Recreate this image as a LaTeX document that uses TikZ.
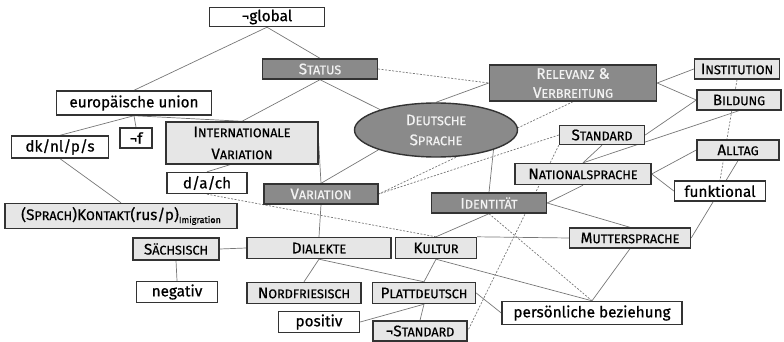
\documentclass[tikz,border=0pt]{standalone}
\usepackage{fontspec}
\setmainfont{Fira Sans}[UprightFeatures={FakeBold=0.6}]
\usetikzlibrary{shapes.geometric}

\pgfdeclarelayer{background}
\pgfsetlayers{background,main}

\definecolor{lightfill}{HTML}{E6E6E6}
\definecolor{darkfill}{HTML}{8A8A8A}
\definecolor{boxline}{HTML}{333333}
\definecolor{linkcol}{HTML}{777777}
\definecolor{darktext}{HTML}{F2F2F2}

% small-caps tail of a word
\newcommand\sml[1]{{\fontsize{12.6}{13}\selectfont #1}}

\tikzset{
  basebox/.style={rectangle, draw=boxline, line width=1.4pt, inner sep=0pt,
    align=center, font=\fontsize{15.3}{19}\selectfont},
  whitebox/.style={basebox, fill=white, text=black},
  lightbox/.style={basebox, fill=lightfill, text=black},
  darkbox/.style={basebox, fill=darkfill, text=darktext},
  link/.style={draw=linkcol, line width=0.7pt},
  dlink/.style={link, dash pattern=on 2pt off 1.5pt},
}

\begin{document}
\begin{tikzpicture}[x=1pt, y=-1pt]
\useasboundingbox (0,0) rectangle (784,342);

% ---- nodes ----
\node[whitebox, minimum width=115pt, minimum height=19pt] (glob) at (267,17) {¬global};
\node[darkbox, minimum width=115pt, minimum height=20pt] (status) at (320,69) {S\sml{TATUS}};
\node[darkbox, minimum width=167pt, minimum height=36pt] (relev) at (573,83) {R\sml{ELEVANZ} \&\\V\sml{ERBREITUNG}};
\node[lightbox, minimum width=85pt, minimum height=20pt] (inst) at (737,69) {I\sml{NSTITUTION}};
\node[lightbox, minimum width=84pt, minimum height=20pt] (bild) at (739,100) {B\sml{ILDUNG}};
\node[whitebox, minimum width=155pt, minimum height=24pt] (eu) at (134,103) {europäische union};
\node[whitebox, minimum width=32pt, minimum height=20pt] (negf) at (136,138) {¬f};
\node[whitebox, minimum width=97pt, minimum height=22pt] (dk) at (60,147) {dk/nl/p/s};
\node[lightbox, minimum width=152pt, minimum height=42pt, font=\fontsize{15.3}{22}\selectfont] (intvar) at (242,143) {I\sml{NTERNATIONALE}\\V\sml{ARIATION}};
\node[ellipse, draw=boxline, line width=1.4pt, fill=darkfill, text=darktext, inner sep=0pt,
      minimum width=163pt, minimum height=54pt, align=center, font=\fontsize{15.3}{20}\selectfont] (ds) at (436,130) {D\sml{EUTSCHE}\\S\sml{PRACHE}};
\node[lightbox, minimum width=85pt, minimum height=19pt] (standard) at (602,135) {S\sml{TANDARD}};
\node[lightbox, minimum width=82pt, minimum height=20pt] (alltag) at (738,150) {A\sml{LLTAG}};
\node[lightbox, minimum width=136pt, minimum height=21pt] (natsp) at (583,174) {N\sml{ATIONALSPRACHE}};
\node[whitebox, minimum width=91pt, minimum height=20pt] (funk) at (720,191) {funktional};
\node[whitebox, minimum width=80pt, minimum height=21pt] (dach) at (207,183) {d/a/ch};
\node[darkbox, minimum width=114pt, minimum height=20pt] (variation) at (321,194) {V\sml{ARIATION}};
\node[darkbox, minimum width=115pt, minimum height=20pt] (ident) at (489,203) {I\sml{DENTITÄT}};
\node[lightbox, minimum width=232pt, minimum height=25pt] (kontakt) at (121,216)
  {(S\sml{PRACH})K\sml{ONTAKT}(rus/p)\raisebox{-3pt}{\fontsize{9}{9}\selectfont Imigration}};
\node[lightbox, minimum width=86pt, minimum height=22pt] (saechs) at (176,249) {S\sml{ÄCHSISCH}};
\node[lightbox, minimum width=144pt, minimum height=21pt] (dial) at (319,248) {D\sml{IALEKTE}};
\node[lightbox, minimum width=81pt, minimum height=21pt] (kultur) at (436,248) {K\sml{ULTUR}};
\node[lightbox, minimum width=121pt, minimum height=20pt] (mutter) at (630,238) {M\sml{UTTERSPRACHE}};
\node[whitebox, minimum width=81pt, minimum height=21pt] (neg) at (177,292) {negativ};
\node[lightbox, minimum width=114pt, minimum height=21pt] (nordf) at (304,293) {N\sml{ORDFRIESISCH}};
\node[lightbox, minimum width=103pt, minimum height=21pt] (platt) at (424,293) {P\sml{LATTDEUTSCH}};
\node[whitebox, minimum width=81pt, minimum height=21pt] (pos) at (319,322) {positiv};
\node[lightbox, minimum width=94pt, minimum height=20pt] (nstand) at (420,331) {¬S\sml{TANDARD}};
\node[whitebox, minimum width=180pt, minimum height=23pt] (pers) at (592,313) {persönliche beziehung};

% ---- connectors (behind the boxes) ----
\begin{pgfonlayer}{background}
  % solid links
  \draw[link] (glob.south) -- (eu.north);
  \draw[link] (glob.south) -- (status.north);
  \draw[link] (eu.south) -- (negf.north);
  \draw[link] (eu.south) -- (dk.north);
  \draw[link] (eu.south) -- (intvar.north);
  \draw[link] (status.south) -- (intvar.north);
  \draw[link] (status.south) -- (ds.160);
  \draw[link] (relev.west) -- (ds.north);
  \draw[link] (relev.east) -- (inst.west);
  \draw[link] (relev.east) -- (bild.west);
  \draw[link] (bild.west) -- (standard.east);
  \draw[link] (bild.south) -- (natsp.north);
  \draw[link] (standard.south) -- (natsp.north);
  \draw[link] (natsp.east) -- (alltag.west);
  \draw[link] (natsp.east) -- (funk.west);
  \draw[link] (natsp.south) -- (ident.east);
  \draw[link] (ident.north) -- (ds.-19);
  \draw[link] (ident.east) -- (mutter.north);
  \draw[link] (ident.south) -- (kultur.north);
  \draw[link] (alltag.south) -- (mutter.east);
  \draw[link] (kultur.north east) -- (mutter.west);
  \draw[link] (kultur.south) -- (platt.north);
  \draw[link] (kultur.south) -- (pers.north);
  \draw[link] (dial.south) -- (platt.north);
  \draw[link] (dial.south) -- (nordf.north);
  \draw[link] (variation.south) -- (dial.north);
  \draw[link] (intvar.east) -- (variation.north);
  \draw[link] (variation.north) -- (ds.199);
  \draw[link] ([xshift=-12pt]intvar.south) -- (dach.north);
  \draw[link] (saechs.east) -- (dial.west);
  \draw[link] (saechs.south) -- (neg.north);
  \draw[link] (dk.south) -- (kontakt.north);
  \draw[link] (platt.east) -- (pers.west);
  \draw[link] (mutter.south) -- (pers.north);
  \draw[link] (platt.south) -- (pos.east);
  \draw[link] (platt.south) -- (nstand.north);
  % dashed links
  \draw[dlink] (status.east) -- (relev.west);
  \draw[dlink] (relev.south) -- (variation.east);
  \draw[dlink] (standard.west) -- (variation.east);
  \draw[dlink] (dach.south) -- (kultur.north);
  \draw[dlink] (ident.south) -- (pers.north);
  \draw[dlink] (standard.south west) -- (nstand.east);
  \draw[dlink] (inst.south) -- (funk.north);
\end{pgfonlayer}
\end{tikzpicture}
\end{document}
